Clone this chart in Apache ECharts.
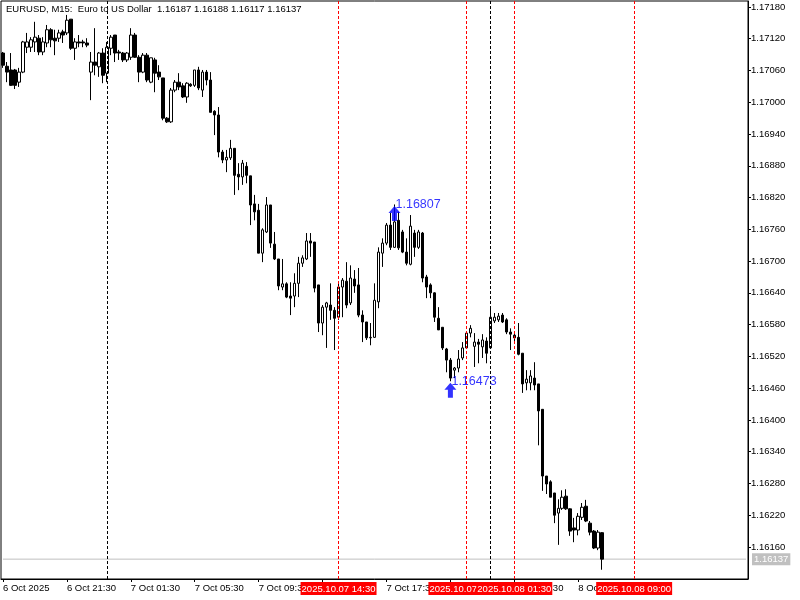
<!DOCTYPE html>
<html><head><meta charset="utf-8">
<script src="https://cdn.jsdelivr.net/npm/echarts@6.0.0/dist/echarts.min.js"></script>
<style>html,body{margin:0;padding:0;background:#fff}#c{width:800px;height:600px}</style>
</head><body><div id="c"></div>
<script>
const headerText = 'EURUSD, M15:  Euro to US Dollar  1.16187 1.16188 1.16117 1.16137';

const open = [
1.17093,1.17068,1.17061,1.17061,1.17038,1.17057,1.17104,1.17104,1.17114,1.17121,
1.17095,1.17112,1.17137,1.17121,1.17121,1.17133,1.17131,1.17157,1.17102,1.17114,
1.17114,1.17112,1.17057,1.17076,1.17067,1.17093,1.17055,1.17102,1.17127,1.17095,
1.17093,1.17080,1.17085,1.17127,1.17085,1.17057,1.17089,1.17038,1.17080,1.17057,
1.17046,1.16970,1.16963,1.17023,1.17038,1.17031,1.17010,1.17034,1.17032,1.17061,
1.17023,1.17057,1.17042,1.16983,1.16976,1.16906,1.16891,1.16895,1.16913,1.16864,
1.16859,1.16879,1.16861,1.16808,1.16796,1.16715,1.16755,1.16806,1.16732,1.16704,
1.16651,1.16657,1.16634,1.16634,1.16658,1.16696,1.16704,1.16738,1.16736,1.16655,
1.16583,1.16613,1.16617,1.16607,1.16594,1.16651,1.16662,1.16621,1.16666,1.16655,
1.16598,1.16585,1.16555,1.16556,1.16623,1.16715,1.16734,1.16768,1.16726,1.16777,
1.16755,1.16717,1.16694,1.16753,1.16726,1.16753,1.16670,1.16655,1.16640,1.16592,
1.16575,1.16534,1.16513,1.16494,1.16498,1.16517,1.16536,1.16564,1.16539,1.16547,
1.16538,1.16549,1.16536,1.16587,1.16589,1.16598,1.16589,1.16566,1.16560,1.16556,
1.16526,1.16470,1.16470,1.16479,1.16468,1.16420,1.16294,1.16283,1.16262,1.16224,
1.16233,1.16256,1.16232,1.16196,1.16192,1.16216,1.16237,1.16205,1.16190,1.16158,
1.16187];

const close = [
1.17070,1.17057,1.17032,1.17032,1.17057,1.17114,1.17114,1.17118,1.17123,1.17095,
1.17114,1.17137,1.17118,1.17116,1.17131,1.17127,1.17155,1.17102,1.17114,1.17112,
1.17112,1.17108,1.17076,1.17070,1.17093,1.17051,1.17104,1.17123,1.17093,1.17093,
1.17080,1.17093,1.17127,1.17085,1.17057,1.17089,1.17042,1.17084,1.17055,1.17048,
1.16970,1.16963,1.17023,1.17038,1.17029,1.17010,1.17036,1.17031,1.17061,1.17027,
1.17057,1.17042,1.16981,1.16976,1.16906,1.16891,1.16896,1.16913,1.16862,1.16859,
1.16885,1.16862,1.16806,1.16793,1.16715,1.16759,1.16806,1.16734,1.16704,1.16653,
1.16657,1.16632,1.16630,1.16658,1.16696,1.16706,1.16738,1.16734,1.16649,1.16583,
1.16613,1.16621,1.16607,1.16592,1.16651,1.16664,1.16617,1.16668,1.16653,1.16598,
1.16585,1.16555,1.16556,1.16626,1.16717,1.16734,1.16768,1.16726,1.16774,1.16725,
1.16717,1.16696,1.16766,1.16726,1.16755,1.16668,1.16651,1.16640,1.16594,1.16570,
1.16536,1.16513,1.16479,1.16498,1.16515,1.16536,1.16564,1.16573,1.16547,1.16543,
1.16551,1.16526,1.16594,1.16594,1.16596,1.16585,1.16566,1.16562,1.16555,1.16524,
1.16468,1.16477,1.16483,1.16466,1.16417,1.16294,1.16279,1.16254,1.16220,1.16233,
1.16254,1.16232,1.16190,1.16192,1.16218,1.16235,1.16209,1.16188,1.16158,1.16188,
1.16137];

const low = [
1.17065,1.17038,1.17031,1.17025,1.17029,1.17055,1.17093,1.17095,1.17095,1.17089,
1.17089,1.17104,1.17104,1.17089,1.17114,1.17112,1.17127,1.17099,1.17080,1.17104,
1.17104,1.17104,1.17004,1.17051,1.17048,1.17036,1.17038,1.17089,1.17076,1.17080,
1.17076,1.17076,1.17080,1.17084,1.17038,1.17055,1.17038,1.17036,1.17019,1.17042,
1.16966,1.16961,1.16961,1.17019,1.17023,1.17008,1.16999,1.17029,1.17029,1.17023,
1.17010,1.17032,1.16981,1.16938,1.16896,1.16885,1.16868,1.16891,1.16825,1.16834,
1.16844,1.16847,1.16768,1.16777,1.16715,1.16698,1.16753,1.16725,1.16702,1.16645,
1.16645,1.16630,1.16598,1.16613,1.16632,1.16689,1.16702,1.16708,1.16641,1.16566,
1.16560,1.16536,1.16589,1.16532,1.16589,1.16594,1.16611,1.16617,1.16640,1.16594,
1.16547,1.16551,1.16541,1.16555,1.16611,1.16689,1.16730,1.16721,1.16725,1.16721,
1.16715,1.16692,1.16692,1.16708,1.16723,1.16660,1.16630,1.16630,1.16585,1.16570,
1.16532,1.16490,1.16473,1.16479,1.16490,1.16513,1.16534,1.16556,1.16500,1.16507,
1.16517,1.16507,1.16534,1.16583,1.16585,1.16583,1.16562,1.16532,1.16545,1.16522,
1.16451,1.16456,1.16456,1.16456,1.16352,1.16266,1.16260,1.16254,1.16205,1.16164,
1.16230,1.16230,1.16181,1.16169,1.16182,1.16211,1.16207,1.16182,1.16156,1.16154,
1.16117];

const high = [
1.17095,1.17076,1.17093,1.17063,1.17065,1.17116,1.17131,1.17123,1.17152,1.17127,
1.17123,1.17146,1.17140,1.17137,1.17137,1.17137,1.17165,1.17157,1.17121,1.17127,
1.17118,1.17121,1.17095,1.17140,1.17095,1.17102,1.17114,1.17127,1.17127,1.17099,
1.17095,1.17095,1.17140,1.17131,1.17089,1.17093,1.17093,1.17084,1.17084,1.17070,
1.17046,1.16972,1.17027,1.17042,1.17055,1.17036,1.17038,1.17036,1.17061,1.17067,
1.17061,1.17061,1.17057,1.16985,1.16991,1.16910,1.16910,1.16929,1.16913,1.16885,
1.16891,1.16887,1.16861,1.16825,1.16808,1.16762,1.16821,1.16806,1.16755,1.16704,
1.16704,1.16660,1.16660,1.16677,1.16708,1.16711,1.16753,1.16753,1.16736,1.16655,
1.16617,1.16623,1.16658,1.16613,1.16660,1.16668,1.16698,1.16692,1.16683,1.16687,
1.16607,1.16585,1.16583,1.16658,1.16726,1.16743,1.16772,1.16791,1.16807,1.16793,
1.16759,1.16743,1.16787,1.16759,1.16759,1.16755,1.16674,1.16658,1.16641,1.16613,
1.16575,1.16536,1.16517,1.16500,1.16532,1.16547,1.16566,1.16579,1.16564,1.16553,
1.16562,1.16556,1.16611,1.16602,1.16602,1.16602,1.16592,1.16573,1.16566,1.16583,
1.16526,1.16494,1.16494,1.16509,1.16468,1.16420,1.16294,1.16286,1.16262,1.16250,
1.16267,1.16269,1.16233,1.16215,1.16224,1.16243,1.16249,1.16209,1.16192,1.16192,
1.16188];

const yTicks = [1.16160,1.16220,1.16280,1.16340,1.16400,1.16460,1.16520,1.16580,1.16640,
                1.16700,1.16760,1.16820,1.16880,1.16940,1.17000,1.17060,1.17120,1.17180];
const xTickIndex = [0,16,32,48,64,80,96,112,128,144];
const xTickLabels = ['6 Oct 2025','6 Oct 21:30','7 Oct 01:30','7 Oct 05:30','7 Oct 09:30',
                     '7 Oct 13:30','7 Oct 17:30','7 Oct 21:30','8 Oct 01:30','8 Oct 05:30'];
const daySeparators = ['2025.10.07 00:00','2025.10.08 00:00'];
const redLines = ['2025.10.07 14:30','2025.10.07 22:30','2025.10.08 01:30','2025.10.08 09:00'];
const lastPrice = 1.16137;
const markerTimes = ['2025.10.07 18:00','2025.10.07 21:30'];
const markerValues = [1.16807, 1.16473];

// category slots: 15-minute bars starting 2025.10.06 17:30 (incl. empty space to the right)
const slotCount = 187;
const categories = [];
const t0 = Date.UTC(2025, 9, 6, 17, 30);
const p2 = n => String(n).padStart(2, '0');
for (let k = 0; k < slotCount; k++) {
  const d = new Date(t0 + k * 900000);
  categories.push(d.getUTCFullYear() + '.' + p2(d.getUTCMonth() + 1) + '.' + p2(d.getUTCDate()) +
                  ' ' + p2(d.getUTCHours()) + ':' + p2(d.getUTCMinutes()));
}
const ohlc = open.map((o, i) => [o, close[i], low[i], high[i]]);

const FONT = 'Liberation Sans, Arial, sans-serif';
const chart = echarts.init(document.getElementById('c'), null, {renderer: 'canvas'});

const vLines = [];
daySeparators.forEach(t => vLines.push({
  xAxis: t, lineStyle: {color: '#000', type: [3, 2], width: 1}, label: {show: false}
}));
redLines.forEach(t => vLines.push({
  xAxis: t, lineStyle: {color: '#ff0000', type: [3, 2], width: 1},
  label: {show: true, position: 'start', formatter: t, backgroundColor: '#ff0000', color: '#fff',
          fontFamily: FONT, fontSize: 9.5, padding: [2, 1, 1, 1], distance: 3}
}));

chart.setOption({
  animation: false,
  backgroundColor: '#ffffff',
  grid: {left: 0, right: 52, top: 1, bottom: 21, show: true, borderColor: '#000', borderWidth: 1, backgroundColor: '#fff'},
  graphic: [{type: 'text', left: 6, top: 4, style: {text: headerText, fill: '#000', font: '9.5px ' + FONT}}],
  xAxis: {
    type: 'category', data: categories, boundaryGap: true,
    axisLine: {show: true, lineStyle: {color: '#000'}},
    axisTick: {show: true, alignWithLabel: true, length: 3, lineStyle: {color: '#000'},
               interval: (i) => xTickIndex.includes(i)},
    axisLabel: {interval: (i) => xTickIndex.includes(i),
                formatter: (v, i) => xTickLabels[xTickIndex.indexOf(i)] || '',
                align: 'left', margin: 4, color: '#000', fontSize: 9.5, fontFamily: FONT},
    splitLine: {show: false}
  },
  yAxis: {
    type: 'value', position: 'right', min: 1.160995, max: 1.171913, scale: true,
    axisLine: {show: true, lineStyle: {color: '#000'}},
    axisTick: {show: true, length: 3, customValues: yTicks, lineStyle: {color: '#000'}},
    axisLabel: {customValues: yTicks, formatter: v => v.toFixed(5), margin: 3, color: '#000',
                fontSize: 9.5, fontFamily: FONT},
    splitLine: {show: false}
  },
  series: [
    {
      type: 'line', z: 1, silent: true, symbol: 'none',
      data: [[categories[0], lastPrice], [categories[slotCount - 1], lastPrice]],
      lineStyle: {color: '#c0c0c0', width: 1},
      endLabel: {show: true, formatter: lastPrice.toFixed(5), backgroundColor: '#c0c0c0', color: '#fff',
                 fontFamily: FONT, fontSize: 9.5, padding: [1, 2, 1, 2], distance: 6}
    },
    {
      type: 'candlestick', data: ohlc, barWidth: 3, z: 2,
      itemStyle: {color: '#ffffff', color0: '#000000', borderColor: '#000000', borderColor0: '#000000', borderWidth: 1},
      markLine: {silent: true, symbol: ['none', 'none'], animation: false, data: vLines}
    },
    {
      type: 'scatter', z: 5,
      data: markerTimes.map((t, i) => [t, markerValues[i]]),
      symbol: 'path://M6,0 L12,7 L8.5,7 L8.5,15 L3.5,15 L3.5,7 L0,7 Z',
      symbolSize: [12, 15], symbolOffset: [0, 9],
      itemStyle: {color: '#0000ff'}, silent: true
    },
    {
      type: 'scatter', z: 6,
      data: markerTimes.map((t, i) => [t, markerValues[i]]),
      symbolSize: 0.1, itemStyle: {color: 'rgba(0,0,0,0)'}, silent: true,
      label: {show: true, position: 'right', distance: 1, color: '#0000ff', fontSize: 12.5, fontFamily: FONT,
              formatter: p => p.value[1].toFixed(5)}
    }
  ]
});
</script></body></html>
